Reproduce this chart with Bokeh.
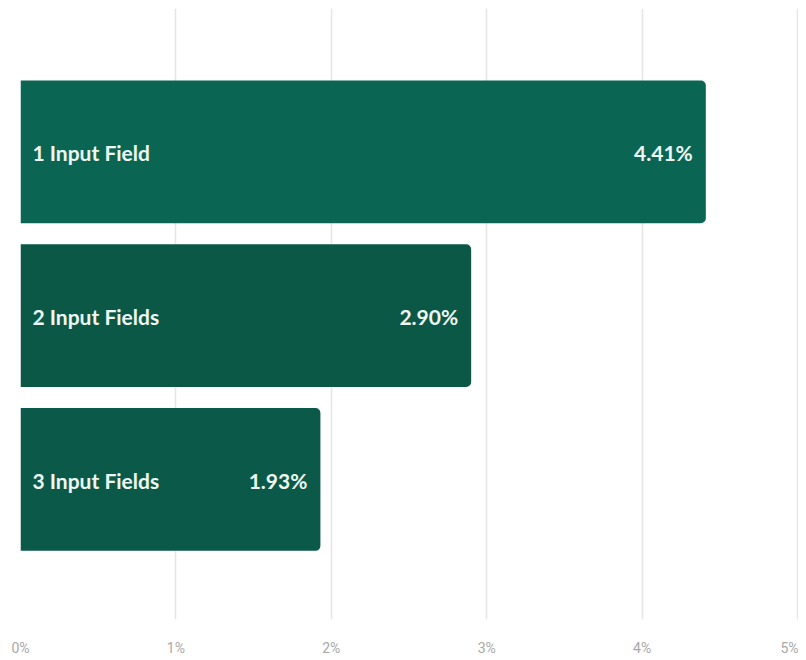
from bokeh.plotting import figure
from bokeh.models import ColumnDataSource, Range1d, FixedTicker
from bokeh.core.properties import value
from bokeh.embed import file_html
from bokeh.resources import INLINE

categories = ["1 Input Field", "2 Input Fields", "3 Input Fields"]
rates = [4.41, 2.90, 1.93]
rate_labels = ["4.41%", "2.90%", "1.93%"]
bar_colors = ["#0a6653", "#0b5847", "#0b5a49"]
tick_values = [0, 1, 2, 3, 4, 5]
tick_labels = ["0%", "1%", "2%", "3%", "4%", "5%"]

positions = [1, 2, 3]
src = ColumnDataSource(dict(y=positions, x=rates, cat=categories, lab=rate_labels,
                            color=bar_colors, zero=[0] * len(rates)))

p = figure(width=798, height=658, output_backend="svg", toolbar_location=None,
           x_range=Range1d(0, 5.0064), y_range=Range1d(3.855, 0.125),
           y_axis_location=None, min_border_left=20, min_border_right=0,
           min_border_top=8, min_border_bottom=0)
p.outline_line_color = None
p.background_fill_color = "white"

p.hbar(y="y", left=0, right="x", height=0.872, color="color", source=src,
       line_color=None, border_radius=(0, 5, 5, 0))

p.text(x="zero", y="y", text="cat", source=src, x_offset=12, y_offset=1,
       text_align="left", text_baseline="middle", text_color="#eef7f2",
       text_font=value("Lato"), text_font_style="bold", text_font_size="21px")
p.text(x="x", y="y", text="lab", source=src, x_offset=-13, y_offset=1,
       text_align="right", text_baseline="middle", text_color="#eef7f2",
       text_font=value("Lato"), text_font_style="bold", text_font_size="21px")

p.ygrid.grid_line_color = None
p.xgrid.grid_line_color = "#e6e6e6"
p.xgrid.grid_line_width = 1.6
p.xaxis.ticker = FixedTicker(ticks=tick_values)
p.xaxis.major_label_overrides = {t: l for t, l in zip(tick_values, tick_labels)}
p.xaxis.axis_line_color = None
p.xaxis.major_tick_line_color = None
p.xaxis.minor_tick_line_color = None
p.xaxis.major_tick_out = 0
p.xaxis.major_label_standoff = 20
p.xaxis.major_label_text_color = "#a8a8a8"
p.xaxis.major_label_text_font = "Roboto"
p.xaxis.major_label_text_font_size = "14px"

open("out.html", "w").write(file_html(p, INLINE))
